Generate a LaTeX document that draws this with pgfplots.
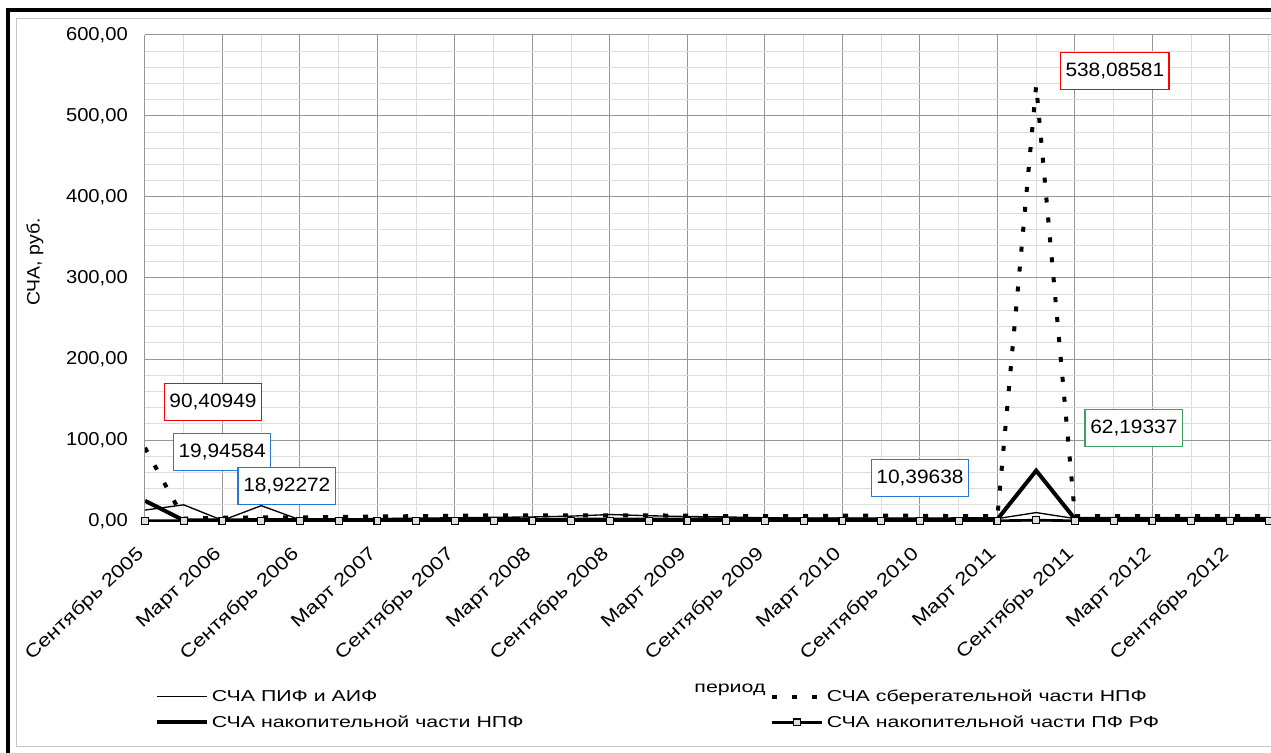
\documentclass[border=0pt]{standalone}
\usepackage{fontspec}
\setmainfont{Liberation Sans}[FakeStretch=1.08]
\newfontfamily\legfont{Liberation Sans}[FakeStretch=1.35]
\newfontfamily\tickfont{Liberation Sans}[FakeStretch=1.2]
\usepackage{pgfplots}
\pgfplotsset{compat=1.18}
\definecolor{lblred}{RGB}{255,0,0}
\definecolor{lblblue}{RGB}{40,120,210}
\definecolor{lblgreen}{RGB}{60,160,100}
\definecolor{majgrid}{RGB}{150,150,150}
\definecolor{mingrid}{RGB}{220,220,220}
\begin{document}
\begin{tikzpicture}
\path[use as bounding box] (-108.75pt,-174pt) rectangle (844.5pt,390.75pt);
\draw[black, line width=3pt] (-102.75pt,-180pt) -- (-102.75pt,383.25pt) -- (850pt,383.25pt);
\draw[gray!45, line width=0.75pt] (850pt,376.5pt) -- (-96.2pt,376.5pt) -- (-96.2pt,-168.75pt) -- (850pt,-168.75pt);
\begin{axis}[
  at={(0pt,0pt)}, anchor=south west,
  scale only axis, width=844.5pt, height=364.5pt,
  xmin=0, xmax=29.06, ymin=0, ymax=600,
  xtick={0,2,...,28}, minor xtick={1,3,...,29},
  xticklabels={Сентябрь 2005, Март 2006, Сентябрь 2006, Март 2007, Сентябрь 2007, Март 2008, Сентябрь 2008, Март 2009, Сентябрь 2009, Март 2010, Сентябрь 2010, Март 2011, Сентябрь 2011, Март 2012, Сентябрь 2012},
  ytick={0,100,...,600}, minor y tick num=4,
  grid=both,
  major grid style={majgrid, line width=0.75pt},
  minor grid style={mingrid, line width=0.75pt},
  axis x line*=bottom, axis y line*=left,
  axis line style={-, draw=majgrid, line width=0.75pt},
  tick style={draw=none},
  /pgf/number format/assume math mode=true,
  y tick label style={/pgf/number format/fixed, /pgf/number format/fixed zerofill, /pgf/number format/precision=2, /pgf/number format/use comma, font=\fontsize{14}{16}\selectfont, inner sep=0pt, xshift=-12.75pt},
  x tick label style={xshift=-2.6pt, yshift=-23pt, rotate=43, anchor=east, font=\tickfont\fontsize{13.8}{16}\selectfont, inner sep=0pt},
  xlabel={период},
  xlabel style={at={(axis description cs:0.5195,-0.347)}, anchor=center, font=\legfont\fontsize{11.85}{13}\selectfont},
  legend columns=2,
  legend style={draw=none, fill=none, at={(axis description cs:0.0089,-0.3415)}, anchor=north west,
    font=\legfont\fontsize{11.85}{13}\selectfont, inner sep=0pt, row sep=5pt,
    /tikz/every even column/.append style={column sep=183pt}, cells={anchor=west}},
  legend image code/.code={\draw[mark repeat=2,mark phase=2,#1] plot coordinates {(0pt,0pt) (18.75pt,0pt) (37.5pt,0pt)};},
  clip mode=individual,
]
\addplot[black, line width=1pt, mark=none] coordinates {
(0,13.5) (1,19.94584) (2,0.8) (3,18.92272) (4,1.5) (5,2.5) (6,3) (7,3.5) (8,4) (9,4.5)
(10,5) (11,6) (12,8) (13,6.5) (14,5.5) (15,5) (16,4) (17,3.5) (18,3.5) (19,3)
(20,3) (21,3) (22,3) (23,10.39638) (24,3) (25,3) (26,3) (27,3) (28,3) (29,3)};
\addlegendentry{СЧА ПИФ и АИФ}
\addplot[black, line width=3pt, dash pattern=on 3.75pt off 11.25pt, mark=none] coordinates {
(0,90.40949) (1,3) (2,4) (3,4.5) (4,4.5) (5,5) (6,5.5) (7,6) (8,6.5) (9,7)
(10,7) (11,7) (12,7) (13,7) (14,6.5) (15,6) (16,6) (17,6) (18,6.5) (19,6.5)
(20,6.5) (21,6) (22,6) (23,538.08581) (24,6) (25,6) (26,6) (27,6) (28,6) (29,6)};
\addlegendentry{СЧА сберегательной части НПФ}
\addplot[black, line width=3pt, mark=none] coordinates {
(0,25) (1,0.8) (2,0.8) (3,1) (4,1) (5,1.2) (6,1.2) (7,1.5) (8,1.5) (9,1.5)
(10,1.5) (11,1.5) (12,1.8) (13,1.8) (14,1.8) (15,2) (16,2) (17,2) (18,2) (19,2)
(20,2) (21,2.2) (22,2.2) (23,62.19337) (24,2.5) (25,2.5) (26,2.5) (27,2.5) (28,2.5) (29,2.5)};
\addlegendentry{СЧА накопительной части НПФ}
\addplot[black, line width=2pt, mark=square*, mark size=2.6pt, mark options={solid, fill=gray!25, draw=black, line width=0.8pt}] coordinates {
(0,0.3) (1,0.3) (2,0.3) (3,0.3) (4,0.3) (5,0.3) (6,0.3) (7,0.3) (8,0.3) (9,0.3)
(10,0.3) (11,0.3) (12,0.3) (13,0.3) (14,0.3) (15,0.3) (16,0.3) (17,0.3) (18,0.3) (19,0.3)
(20,0.3) (21,0.3) (22,0.3) (23,1) (24,0.3) (25,0.3) (26,0.3) (27,0.3) (28,0.3) (29,0.3)};
\addlegendentry{СЧА накопительной части ПФ РФ}
\tikzset{dlbl/.style={draw=#1, line width=1.2pt, fill=white, inner xsep=3.75pt, minimum height=27.75pt, font=\fontsize{14.5}{16}\selectfont}}
\node[dlbl=lblred] at (axis cs:1.755,146.9) {90,40949};
\node[dlbl=lblblue] at (axis cs:1.99,85.2) {19,94584};
\node[dlbl=lblblue] at (axis cs:3.66,43.2) {18,92272};
\node[dlbl=lblblue] at (axis cs:20.0,53.1) {10,39638};
\node[dlbl=lblred] at (axis cs:25.03,555.6) {538,08581};
\node[dlbl=lblgreen] at (axis cs:25.52,114.8) {62,19337};
\end{axis}
\node[rotate=90, font=\fontsize{13.5}{15}\selectfont] at (-82.5pt,194.25pt) {СЧА, руб.};
\end{tikzpicture}
\end{document}
